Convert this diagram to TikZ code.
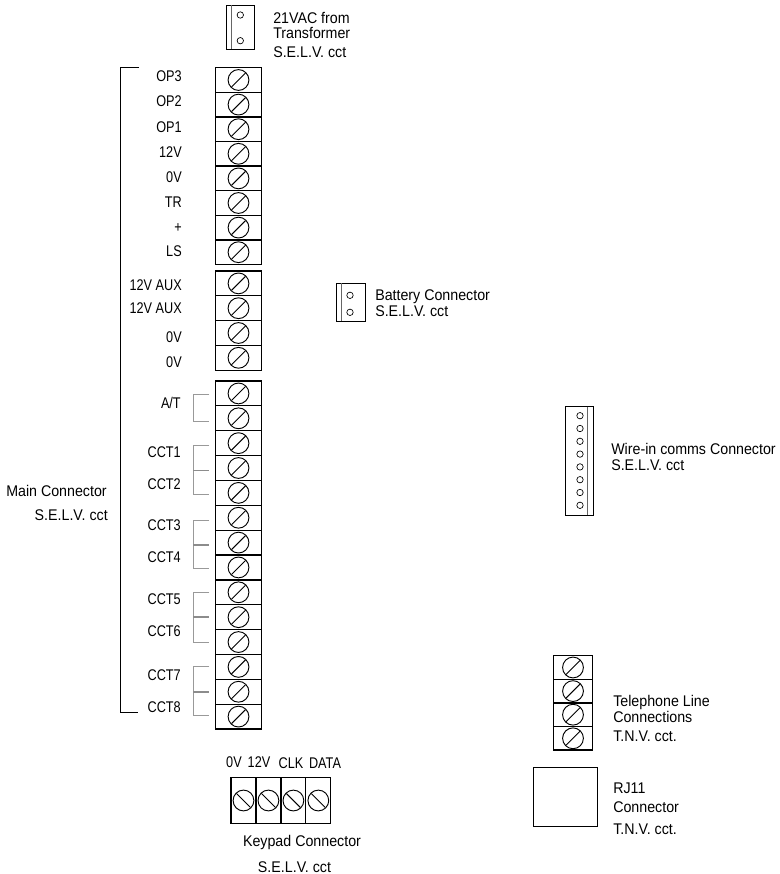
\documentclass[tikz,border=0pt]{standalone}
\usepackage{fontspec}
\setmainfont[FakeStretch=0.92]{Liberation Sans}
\newfontfamily\pinfont[FakeStretch=0.82]{Liberation Sans}
\usepackage{tikz}

% one screw terminal: left, top, width, height
\newcommand{\termup}[4]{
    \draw[termbox] (#1,#2) rectangle ++(#3,#4);
    \draw[screw] ({#1+#3/2},{#2+#4/2}) circle (10.4);
    \draw[screw] ({#1+#3/2-7},{#2+#4/2+7}) -- ++(14,-14);
}
\newcommand{\termdown}[4]{
    \draw[termbox] (#1,#2) rectangle ++(#3,#4);
    \draw[screw] ({#1+#3/2},{#2+#4/2}) circle (10.4);
    \draw[screw] ({#1+#3/2-7},{#2+#4/2-7}) -- ++(14,14);
}

\tikzset{
    termbox/.style={line width=0.95pt},
    screw/.style={line width=0.7pt},
    plugbox/.style={line width=0.6pt},
    hole/.style={line width=0.5pt},
    strip/.style={line width=0.6pt,black!60},
    link/.style={line width=0.65pt,black!40},
    linkmid/.style={line width=1.2pt,black!45},
    lab/.style={font=\fontsize{11.6}{13}\selectfont,inner sep=0pt},
    pinlab/.style={font=\pinfont\fontsize{11.6}{13}\selectfont,inner sep=0pt},
    leftlab/.style={lab,anchor=base west},
    rightlab/.style={lab,anchor=base east},
    midlab/.style={lab,anchor=base}
}

\begin{document}
\begin{tikzpicture}[x=0.75pt,y=-0.75pt]
    \useasboundingbox (0,0) rectangle (780,874);

    % 21VAC plug
    \draw[plugbox] (226,5) rectangle (254,49);
    \draw[strip] (231.7,5) -- (231.7,49);
    \draw[hole] (240.3,15) circle (3.2);
    \draw[hole] (240.3,40.7) circle (3.2);
    \node[leftlab] (vacone) at (273,24) {21VAC from};
    \node[leftlab] (vactwo) at (273,39) {Transformer};
    \node[leftlab] (vacthree) at (273,58) {S.E.L.V. cct};

    % main connector, three blocks
    \foreach \i in {0,...,7}
        \termup{215.5}{67.7+24.6*\i}{46}{24.6};
    \foreach \i in {0,...,3}
        \termup{215.5}{271+24.8*\i}{46}{24.8};
    \foreach \i in {0,...,13}
        \termup{215.5}{381+24.86*\i}{46}{24.86};

    % bracket
    \draw[line width=0.7pt] (139,67.7) -- (120,67.7) -- (120,712.7) -- (138,712.7);
    \node[rightlab] (mainone) at (107,496) {Main Connector};
    \node[rightlab] (maintwo) at (108,520) {S.E.L.V. cct};

    \node[rightlab,pinlab] (opthree) at (182,81) {OP3};
    \node[rightlab,pinlab] (optwo) at (182,106) {OP2};
    \node[rightlab,pinlab] (opone) at (182,132) {OP1};
    \node[rightlab,pinlab] (twelve) at (182,157) {12V};
    \node[rightlab,pinlab] (zero) at (182,182) {0V};
    \node[rightlab,pinlab] (tr) at (182,207) {TR};
    \node[rightlab,pinlab] (plus) at (182,232) {+};
    \node[rightlab,pinlab] (ls) at (182,256) {LS};
    \node[rightlab,pinlab] (auxone) at (182,290) {12V AUX};
    \node[rightlab,pinlab] (auxtwo) at (182,313) {12V AUX};
    \node[rightlab,pinlab] (zeroa) at (182,342) {0V};
    \node[rightlab,pinlab] (zerob) at (182,367) {0V};
    \node[rightlab,pinlab] (at) at (181,408) {A/T};
    \node[rightlab,pinlab] (cctone) at (181,457) {CCT1};
    \node[rightlab,pinlab] (ccttwo) at (181,489) {CCT2};
    \node[rightlab,pinlab] (cctthree) at (181,530) {CCT3};
    \node[rightlab,pinlab] (cctfour) at (181,562) {CCT4};
    \node[rightlab,pinlab] (cctfive) at (181,604) {CCT5};
    \node[rightlab,pinlab] (cctsix) at (181,636) {CCT6};
    \node[rightlab,pinlab] (cctseven) at (181,680) {CCT7};
    \node[rightlab,pinlab] (ccteight) at (181,712) {CCT8};

    % grey links
    \draw[link] (209.3,394) -- (193.3,394) -- (193.3,421) -- (209.3,421);
    \draw[link] (209.3,445) -- (193.3,445) -- (193.3,494.3) -- (209.3,494.3);
    \draw[linkmid] (193.3,470.6) -- (209.3,470.6);
    \draw[link] (209.3,520) -- (193.3,520) -- (193.3,568.5) -- (209.3,568.5);
    \draw[linkmid] (193.3,545) -- (209.3,545);
    \draw[link] (209.3,592) -- (193.3,592) -- (193.3,642) -- (209.3,642);
    \draw[linkmid] (193.3,617) -- (209.3,617);
    \draw[link] (209.3,666) -- (193.3,666) -- (193.3,715) -- (209.3,715);
    \draw[linkmid] (193.3,692) -- (209.3,692);

    % battery plug
    \draw[plugbox] (336,283.3) rectangle (365,321);
    \draw[strip] (341.7,283.3) -- (341.7,321);
    \draw[hole] (350,295.3) circle (3.2);
    \draw[hole] (350,312.3) circle (3.2);
    \node[leftlab] (batone) at (375,300) {Battery Connector};
    \node[leftlab] (battwo) at (375,316) {S.E.L.V. cct};

    % comms plug
    \draw[plugbox] (565.3,406.7) rectangle (593.3,515);
    \draw[strip] (587.7,406.7) -- (587.7,515);
    \foreach \i in {0,...,7}
        \draw[hole] (580,{415.7+12.8*\i}) circle (3.2);
    \node[leftlab] (comone) at (611,454) {Wire-in comms Connector};
    \node[leftlab] (comtwo) at (611,470) {S.E.L.V. cct};

    % telephone line
    \foreach \i in {0,...,3}
        \termup{553.3}{655.7+23.6*\i}{39.4}{23.6};
    \node[leftlab] (telone) at (613,706) {Telephone Line};
    \node[leftlab] (teltwo) at (613,722) {Connections};
    \node[leftlab] (telthree) at (613,741) {T.N.V. cct.};

    % RJ11
    \draw[plugbox] (533.3,767.7) rectangle (597.3,826.3);
    \node[leftlab] (rjone) at (613,793) {RJ11};
    \node[leftlab] (rjtwo) at (613,812) {Connector};
    \node[leftlab] (rjthree) at (613,834) {T.N.V. cct.};

    % keypad
    \foreach \i in {0,...,3}
        \termdown{231+24.95*\i}{777.7}{24.95}{45.6};
    \node[midlab,pinlab] (kzero) at (234,767) {0V};
    \node[midlab,pinlab] (ktwelve) at (259,767) {12V};
    \node[midlab,pinlab] (kclk) at (291,768) {CLK};
    \node[midlab,pinlab] (kdata) at (325,768) {DATA};
    \node[midlab] (keyone) at (302,846) {Keypad Connector};
    \node[midlab] (keytwo) at (294.5,872) {S.E.L.V. cct};

\end{tikzpicture}
\end{document}
